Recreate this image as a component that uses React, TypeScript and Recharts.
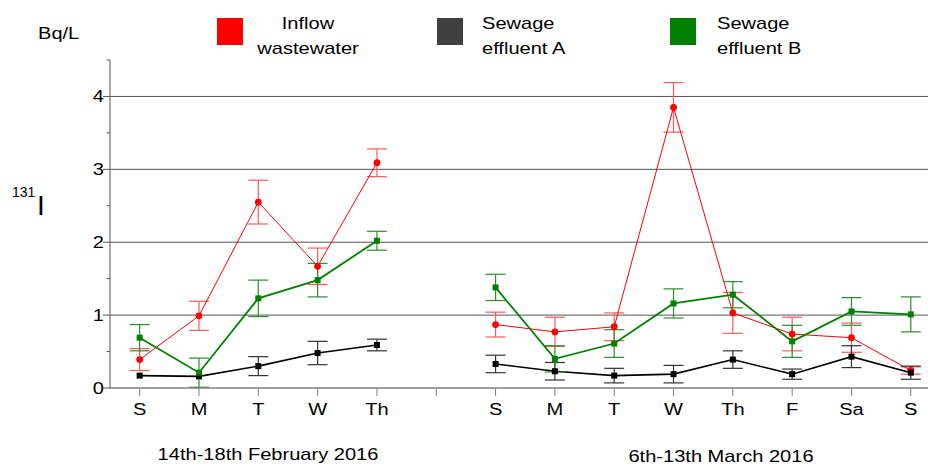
import { CartesianGrid, ErrorBar, Line, LineChart, XAxis, YAxis } from "recharts"

// Day labels for positions 1..14; position 6 is the spacer between the two sampling weeks
const dayLabels = ["S", "M", "T", "W", "Th", "", "S", "M", "T", "W", "Th", "F", "Sa", "S"]
const dayTicks = [1, 2, 3, 4, 5, 6, 7, 8, 9, 10, 11, 12, 13, 14]
const levelTicks = [0, 0.5, 1, 1.5, 2, 2.5, 3, 3.5, 4, 4.5]

const febPositions = [1, 2, 3, 4, 5]
const marchPositions = [7, 8, 9, 10, 11, 12, 13, 14]

// 131I activity, Bq/L, with measurement uncertainty
const febInflow = [0.39, 0.99, 2.55, 1.67, 3.09]
const febInflowErr = [0.15, 0.2, 0.3, 0.25, 0.19]
const febEffluentA = [0.17, 0.16, 0.3, 0.48, 0.59]
const febEffluentAErr = [0, 0, 0.13, 0.16, 0.08]
const febEffluentB = [0.69, 0.21, 1.23, 1.48, 2.02]
const febEffluentBErr = [0.18, 0.2, 0.25, 0.23, 0.13]

const marchInflow = [0.87, 0.77, 0.84, 3.85, 1.03, 0.74, 0.69, 0.24]
const marchInflowErr = [0.17, 0.2, 0.19, 0.34, 0.28, 0.23, 0.2, 0.05]
const marchEffluentA = [0.33, 0.23, 0.17, 0.19, 0.39, 0.19, 0.43, 0.21]
const marchEffluentAErr = [0.12, 0.12, 0.1, 0.12, 0.12, 0.07, 0.15, 0.09]
const marchEffluentB = [1.38, 0.4, 0.61, 1.16, 1.28, 0.64, 1.05, 1.01]
const marchEffluentBErr = [0.18, 0.18, 0.19, 0.2, 0.18, 0.22, 0.19, 0.24]

type Row = { x: number; value: number; err: number }

function toRows(positions: number[], values: number[], errors: number[]): Row[] {
  return positions.map((x, i) => ({ x, value: values[i], err: errors[i] }))
}

const font = '"Liberation Sans", Arial, sans-serif'
const stretch = 1.18

const RED = "#ff0000"
const BLACK = "#000000"
const GREEN = "#008000"

function circleDot(color: string) {
  return (props: any) => {
    const { cx, cy, index } = props
    if (cx == null || cy == null) return <g key={`c-${index}`} />
    return <circle key={`c-${index}`} cx={cx} cy={cy} r={3.4} fill={color} />
  }
}

function squareDot(color: string) {
  return (props: any) => {
    const { cx, cy, index } = props
    if (cx == null || cy == null) return <g key={`s-${index}`} />
    return <rect key={`s-${index}`} x={cx - 3} y={cy - 3} width={6} height={6} fill={color} />
  }
}

function DayTick({ x, y, payload }: any) {
  const label = dayLabels[payload.value - 1] ?? ""
  return (
    <text
      transform={`translate(${x},${y}) scale(${stretch},1)`}
      dy={19}
      textAnchor="middle"
      fontSize={17}
      fontFamily={font}
      fill="#000"
    >
      {label}
    </text>
  )
}

function LevelTick({ x, y, payload }: any) {
  const value = payload.value as number
  const major = Number.isInteger(value)
  return (
    <g>
      <line x1={x - (major ? 7 : 3.5)} x2={x} y1={y} y2={y} stroke="#555" strokeWidth={1} />
      {major && (
        <text
          transform={`translate(${x - 6},${y}) scale(${stretch},1)`}
          dy={6}
          textAnchor="end"
          fontSize={17}
          fontFamily={font}
          fill="#000"
        >
          {value}
        </text>
      )}
    </g>
  )
}

const series = [
  { id: "feb-inflow", rows: toRows(febPositions, febInflow, febInflowErr), color: RED, width: 1, dot: circleDot(RED), errColor: "#ff5a5a" },
  { id: "mar-inflow", rows: toRows(marchPositions, marchInflow, marchInflowErr), color: RED, width: 1, dot: circleDot(RED), errColor: "#ff5a5a" },
  { id: "feb-a", rows: toRows(febPositions, febEffluentA, febEffluentAErr), color: BLACK, width: 1.6, dot: squareDot(BLACK), errColor: "#333" },
  { id: "mar-a", rows: toRows(marchPositions, marchEffluentA, marchEffluentAErr), color: BLACK, width: 1.6, dot: squareDot(BLACK), errColor: "#333" },
  { id: "feb-b", rows: toRows(febPositions, febEffluentB, febEffluentBErr), color: GREEN, width: 1.8, dot: squareDot(GREEN), errColor: "#2a8f2a" },
  { id: "mar-b", rows: toRows(marchPositions, marchEffluentB, marchEffluentBErr), color: GREEN, width: 1.8, dot: squareDot(GREEN), errColor: "#2a8f2a" },
]

const legendItems = [
  { color: "#ff0000", left: 217, textLeft: 308, lines: ["Inflow", "wastewater"], centered: true },
  { color: "#404040", left: 437, textLeft: 482, lines: ["Sewage", "effluent A"], centered: false },
  { color: "#008000", left: 670, textLeft: 717, lines: ["Sewage", "effluent B"], centered: false },
]

const textStyle = {
  position: "absolute" as const,
  fontFamily: font,
  fontSize: 17,
  lineHeight: "25px",
  color: "#000",
  whiteSpace: "nowrap" as const,
}

export default function App() {
  return (
    <div style={{ position: "absolute", left: 0, top: 0, width: 928, height: 466, background: "#fff" }}>
      <LineChart width={928} height={466} data={[]} margin={{ top: 60, right: 0, bottom: 0, left: 0 }}>
        <CartesianGrid horizontal vertical={false} horizontalValues={[1, 2, 3, 4]} stroke="#555" />
        <XAxis
          type="number"
          dataKey="x"
          domain={[0.5, 14.29]}
          allowDataOverflow
          ticks={dayTicks}
          interval={0}
          height={78}
          tickSize={8}
          tickMargin={0}
          axisLine={{ stroke: "#808080", strokeWidth: 1.5 }}
          tickLine={{ stroke: "#808080" }}
          tick={<DayTick />}
        />
        <YAxis
          type="number"
          domain={[0, 4.5]}
          ticks={levelTicks}
          interval={0}
          width={110}
          tickSize={0}
          tickMargin={0}
          tickLine={false}
          axisLine={{ stroke: "#555" }}
          tick={<LevelTick />}
        />
        {series.map((s) => (
          <Line
            key={s.id}
            data={s.rows}
            dataKey="value"
            stroke={s.color}
            strokeWidth={s.width}
            dot={s.dot}
            activeDot={false}
            isAnimationActive={false}
          >
            <ErrorBar dataKey="err" direction="y" width={10} stroke={s.errColor} strokeWidth={1.2} />
          </Line>
        ))}
      </LineChart>

      <div style={{ ...textStyle, left: 38, top: 24, lineHeight: "20px", transform: `scaleX(${stretch})`, transformOrigin: "left" }}>
        Bq/L
      </div>

      <div style={{ ...textStyle, left: 12, top: 184, fontSize: 14, lineHeight: "16px" }}>131</div>
      <div style={{ ...textStyle, left: 37, top: 190, fontSize: 28, lineHeight: "32px" }}>I</div>

      {legendItems.map((item) => (
        <div key={item.lines[1]}>
          <div style={{ position: "absolute", left: item.left, top: 18, width: 26, height: 27, background: item.color }} />
          <div
            style={{
              ...textStyle,
              top: 11,
              left: item.textLeft,
              textAlign: item.centered ? "center" : "left",
              transform: item.centered ? `translateX(-50%) scaleX(${stretch})` : `scaleX(${stretch})`,
              transformOrigin: item.centered ? "center" : "left",
            }}
          >
            {item.lines.map((line) => (
              <div key={line}>{line}</div>
            ))}
          </div>
        </div>
      ))}

      <div style={{ ...textStyle, left: 268, top: 442, transform: `translateX(-50%) scaleX(${stretch})` }}>
        14th-18th February 2016
      </div>
      <div style={{ ...textStyle, left: 721, top: 444, transform: `translateX(-50%) scaleX(${stretch})` }}>
        6th-13th March 2016
      </div>
    </div>
  )
}
